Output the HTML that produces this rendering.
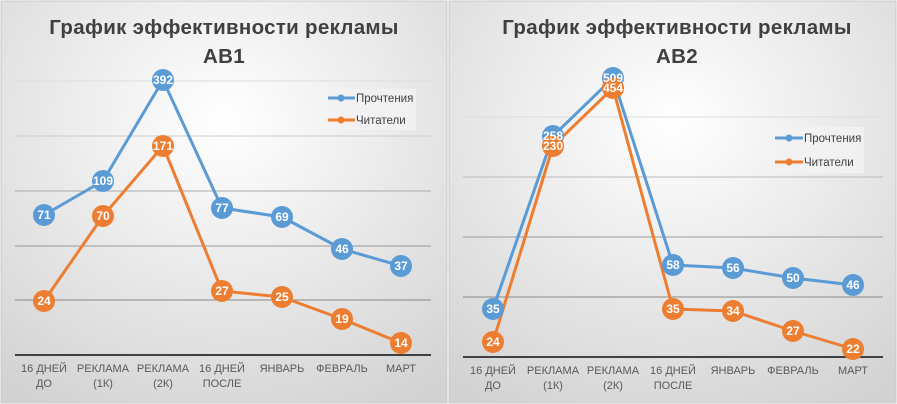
<!DOCTYPE html>
<html><head><meta charset="utf-8"><style>
body{margin:0;width:897px;height:404px;background:#fff;overflow:hidden}
svg{display:block}
text{font-family:"Liberation Sans","DejaVu Sans",sans-serif}
</style></head><body>
<svg width="897" height="404" viewBox="0 0 897 404">
<defs>
<radialGradient id="bg" cx="0.5" cy="0.3" r="0.8">
<stop offset="0" stop-color="#ffffff"/><stop offset="1" stop-color="#d3d3d3"/>
</radialGradient>
</defs>
<rect x="1" y="1" width="446" height="402" fill="url(#bg)" stroke="#c8c8c8"/>
<rect x="449" y="1" width="447" height="402" fill="url(#bg)" stroke="#c8c8c8"/>
<g fill="#404040" font-weight="bold" font-size="20.5" text-anchor="middle" letter-spacing="0.3">
<text x="224" y="34">График эффективности рекламы</text>
<text x="224" y="63">AB1</text>
<text x="677" y="34">График эффективности рекламы</text>
<text x="677" y="63">AB2</text>
</g>
<g stroke="#c0c0c0" stroke-width="1">
<line x1="15" x2="431" y1="81" y2="81" stroke="#ddd"/><line x1="15" x2="431" y1="136" y2="136" stroke="#ccc"/>
<line x1="15" x2="431" y1="191" y2="191" stroke="#aaa"/><line x1="15" x2="431" y1="246" y2="246" stroke="#999"/>
<line x1="15" x2="431" y1="300" y2="300" stroke="#888"/>
<line x1="463" x2="883" y1="117" y2="117" stroke="#ddd"/><line x1="463" x2="883" y1="177" y2="177" stroke="#bbb"/>
<line x1="463" x2="883" y1="237" y2="237" stroke="#999"/><line x1="463" x2="883" y1="297" y2="297" stroke="#888"/>
</g>
<line x1="15" x2="431" y1="355" y2="355" stroke="#404040" stroke-width="2"/>
<line x1="463" x2="883" y1="357" y2="357" stroke="#404040" stroke-width="2"/>
<g fill="#595959" font-size="11" text-anchor="middle">
<text x="44" y="372">16 ДНЕЙ</text><text x="44" y="387">ДО</text>
<text x="103" y="372">РЕКЛАМА</text><text x="103" y="387">(1К)</text>
<text x="163" y="372">РЕКЛАМА</text><text x="163" y="387">(2К)</text>
<text x="222" y="372">16 ДНЕЙ</text><text x="222" y="387">ПОСЛЕ</text>
<text x="282" y="372">ЯНВАРЬ</text><text x="342" y="372">ФЕВРАЛЬ</text><text x="401" y="372">МАРТ</text>
<text x="493" y="374">16 ДНЕЙ</text><text x="493" y="389">ДО</text>
<text x="553" y="374">РЕКЛАМА</text><text x="553" y="389">(1К)</text>
<text x="613" y="374">РЕКЛАМА</text><text x="613" y="389">(2К)</text>
<text x="673" y="374">16 ДНЕЙ</text><text x="673" y="389">ПОСЛЕ</text>
<text x="733" y="374">ЯНВАРЬ</text><text x="793" y="374">ФЕВРАЛЬ</text><text x="853" y="374">МАРТ</text>
</g>
<rect x="319" y="89" width="97" height="41" fill="#f2f2f2" opacity="0.8"/>
<rect x="766" y="127" width="98" height="46" fill="#f2f2f2" opacity="0.8"/>
<g stroke-width="3">
<line x1="328" x2="355" y1="98" y2="98" stroke="#5b9bd5"/><line x1="328" x2="355" y1="120" y2="120" stroke="#ed7d31"/>
<line x1="775" x2="803" y1="138" y2="138" stroke="#5b9bd5"/><line x1="775" x2="803" y1="162" y2="162" stroke="#ed7d31"/>
</g>
<circle cx="341" cy="98" r="3.5" fill="#5b9bd5"/><circle cx="341" cy="120" r="3.5" fill="#ed7d31"/>
<circle cx="789" cy="138" r="3.5" fill="#5b9bd5"/><circle cx="789" cy="162" r="3.5" fill="#ed7d31"/>
<g fill="#404040" font-size="11.5">
<text x="356" y="102">Прочтения</text><text x="356" y="124">Читатели</text>
<text x="804" y="142">Прочтения</text><text x="804" y="166">Читатели</text>
</g>
<g fill="none" stroke-width="3" stroke-linejoin="round">
<polyline stroke="#5b9bd5" points="44,215 103,181 163,80 222,208 282,217 342,249 401,266"/>
<polyline stroke="#ed7d31" points="44,301 103,216 163,146 222,291 282,297 342,319 401,343"/>
<polyline stroke="#5b9bd5" points="493,309 553,136 613,78 673,265 733,268 793,278 853,285"/>
<polyline stroke="#ed7d31" points="493,342 553,146 613,88 673,309 733,311 793,331 853,349"/>
</g>
<g font-size="12" font-weight="bold" fill="#fff" text-anchor="middle">
<g fill="#5b9bd5">
<circle cx="44" cy="215" r="11"/><circle cx="103" cy="181" r="11"/><circle cx="163" cy="80" r="11"/><circle cx="222" cy="208" r="11"/><circle cx="282" cy="217" r="11"/><circle cx="342" cy="249" r="11"/><circle cx="401" cy="266" r="11"/>
<circle cx="493" cy="309" r="11"/><circle cx="553" cy="136" r="11"/><circle cx="613" cy="78" r="11"/><circle cx="673" cy="265" r="11"/><circle cx="733" cy="268" r="11"/><circle cx="793" cy="278" r="11"/><circle cx="853" cy="285" r="11"/>
</g>
<g fill="#ed7d31">
<circle cx="44" cy="301" r="11"/><circle cx="103" cy="216" r="11"/><circle cx="163" cy="146" r="11"/><circle cx="222" cy="291" r="11"/><circle cx="282" cy="297" r="11"/><circle cx="342" cy="319" r="11"/><circle cx="401" cy="343" r="11"/>
<circle cx="493" cy="342" r="11"/><circle cx="553" cy="146" r="11"/><circle cx="613" cy="88" r="11"/><circle cx="673" cy="309" r="11"/><circle cx="733" cy="311" r="11"/><circle cx="793" cy="331" r="11"/><circle cx="853" cy="349" r="11"/>
</g>
<text x="44" y="219">71</text><text x="103" y="185">109</text><text x="163" y="84">392</text><text x="222" y="212">77</text><text x="282" y="221">69</text><text x="342" y="253">46</text><text x="401" y="270">37</text>
<text x="44" y="305">24</text><text x="103" y="220">70</text><text x="163" y="150">171</text><text x="222" y="295">27</text><text x="282" y="301">25</text><text x="342" y="323">19</text><text x="401" y="347">14</text>
<text x="493" y="313">35</text><text x="553" y="140">258</text><text x="613" y="82">509</text><text x="673" y="269">58</text><text x="733" y="272">56</text><text x="793" y="282">50</text><text x="853" y="289">46</text>
<text x="493" y="346">24</text><text x="553" y="150">230</text><text x="613" y="92">454</text><text x="673" y="313">35</text><text x="733" y="315">34</text><text x="793" y="335">27</text><text x="853" y="353">22</text>
</g>
</svg>
</body></html>
